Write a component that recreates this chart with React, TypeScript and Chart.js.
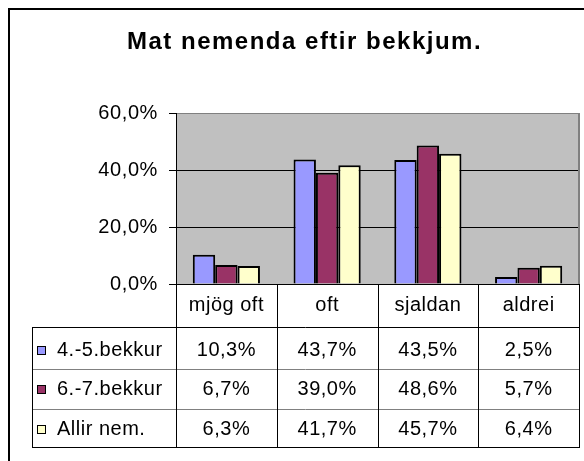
import React, { useEffect, useRef } from "react";
import { Chart, registerables } from "chart.js";

Chart.register(...registerables);

const title = "Mat nemenda eftir bekkjum.";
const categories = ["mjög oft", "oft", "sjaldan", "aldrei"];
const seriesNames = ["4.-5.bekkur", "6.-7.bekkur", "Allir nem."];
const grade45 = [10.3, 43.7, 43.5, 2.5];
const grade67 = [6.7, 39.0, 48.6, 5.7];
const allPupils = [6.3, 41.7, 45.7, 6.4];
const seriesColors = ["#9999FF", "#993366", "#FFFFCC"];
const yMin = 0;
const yMax = 60;
const yStep = 20;

const fmt = (v: number) => v.toFixed(1).replace(".", ",") + "%";
const FONT = "'Liberation Sans', Arial, sans-serif";

const bgPlugin = {
  id: "bgPlugin",
  beforeDraw(chart: any) {
    const { ctx, chartArea } = chart;
    ctx.save();
    ctx.fillStyle = "#FFFFFF";
    ctx.fillRect(0, 0, chart.width, chart.height);
    ctx.fillStyle = "#C0C0C0";
    ctx.fillRect(chartArea.left, chartArea.top, chartArea.right - chartArea.left, chartArea.bottom - chartArea.top);
    ctx.restore();
    (ctx as any).letterSpacing = "0.6px";
  },
};

const tablePlugin = {
  id: "tablePlugin",
  afterDraw(chart: any) {
    const { ctx, chartArea } = chart;
    const series = [grade45, grade67, allPupils];
    const left = chartArea.left;
    const right = chartArea.right;
    const colW = (right - left) / categories.length;
    const axisY = chartArea.bottom;
    const headerBottom = 327;
    const rowBottoms = [369, 409, 447];
    const tableLeft = 32;

    ctx.save();
    // outer frame
    ctx.strokeStyle = "#000";
    ctx.lineWidth = 2;
    ctx.beginPath();
    ctx.moveTo(9, chart.height + 5);
    ctx.lineTo(9, 9);
    ctx.lineTo(chart.width + 5, 9);
    ctx.stroke();

    // plot right border
    ctx.strokeStyle = "#808080";
    ctx.lineWidth = 2;
    ctx.beginPath();
    ctx.moveTo(right, chartArea.top);
    ctx.lineTo(right, axisY);
    ctx.stroke();

    // title
    (ctx as any).letterSpacing = "1.5px";
    ctx.fillStyle = "#000";
    ctx.font = "bold 24px " + FONT;
    ctx.textAlign = "left";
    ctx.textBaseline = "alphabetic";
    ctx.fillText(title, 127, 49);

    // table lines
    (ctx as any).letterSpacing = "0.5px";
    ctx.lineWidth = 1;
    ctx.strokeStyle = "#808080";
    ctx.beginPath();
    for (let r = 0; r < rowBottoms.length - 1; r++) {
      const y = rowBottoms[r] + 0.5;
      ctx.moveTo(tableLeft, y);
      ctx.lineTo(right, y);
    }
    ctx.stroke();

    ctx.strokeStyle = "#000";
    ctx.beginPath();
    ctx.moveTo(tableLeft, headerBottom + 0.5);
    ctx.lineTo(right, headerBottom + 0.5);
    ctx.moveTo(tableLeft, rowBottoms[2] + 0.5);
    ctx.lineTo(right + 1, rowBottoms[2] + 0.5);
    ctx.moveTo(tableLeft + 0.5, headerBottom);
    ctx.lineTo(tableLeft + 0.5, rowBottoms[2]);
    for (let i = 0; i <= categories.length; i++) {
      const x = Math.round(left + i * colW) + 0.5;
      ctx.moveTo(x, axisY);
      ctx.lineTo(x, rowBottoms[2]);
    }
    ctx.stroke();

    // header labels
    ctx.font = "20px " + FONT;
    ctx.fillStyle = "#000";
    ctx.textAlign = "center";
    categories.forEach((c, i) => {
      ctx.fillText(c, left + (i + 0.5) * colW, 311);
    });

    // rows
    const baselines = [356, 395, 435];
    series.forEach((vals, r) => {
      const b = baselines[r];
      ctx.fillStyle = seriesColors[r];
      ctx.fillRect(37, b - 10, 9, 9);
      ctx.strokeStyle = "#000";
      ctx.lineWidth = 1;
      ctx.strokeRect(37.5, b - 9.5, 8, 8);
      ctx.fillStyle = "#000";
      ctx.textAlign = "left";
      ctx.fillText(seriesNames[r], 57, b);
      ctx.textAlign = "center";
      vals.forEach((v, i) => {
        ctx.fillText(fmt(v), left + (i + 0.5) * colW, b);
      });
    });
    ctx.restore();
  },
};

export default function App() {
  const ref = useRef<HTMLCanvasElement | null>(null);
  useEffect(() => {
    if (!ref.current) return;
    const chart = new Chart(ref.current, {
      type: "bar",
      data: {
        labels: categories,
        datasets: [grade45, grade67, allPupils].map((d, i) => ({
          label: seriesNames[i],
          data: d,
          backgroundColor: seriesColors[i],
          borderColor: "#000000",
          borderWidth: 2,
          barPercentage: 1,
          categoryPercentage: 3 / 4.5,
        })),
      },
      options: {
        animation: false,
        responsive: false,
        devicePixelRatio: 1,
        layout: { padding: { top: 113, right: 5, bottom: 177, left: 0 } },
        plugins: {
          legend: { display: false },
          title: { display: false },
          tooltip: { enabled: false },
        },
        scales: {
          x: { display: false },
          y: {
            min: yMin,
            max: yMax,
            ticks: {
              stepSize: yStep,
              padding: 11,
              color: "#000",
              font: { family: FONT, size: 20 },
              callback: (v: any) => fmt(Number(v)),
            },
            grid: {
              color: (c: any) => (c.tick && c.tick.value === yMax ? "#808080" : "#000000"),
              tickColor: "#000000",
              tickLength: 7,
              lineWidth: 1,
            },
            border: { display: true, color: "#000000", width: 1 },
            afterFit: (scale: any) => {
              scale.width = 176;
            },
          },
        },
      },
      plugins: [bgPlugin, tablePlugin],
    });
    return () => chart.destroy();
  }, []);
  return (
    <div style={{ position: "absolute", left: 0, top: 0, width: 584, height: 461, background: "#fff" }}>
      <canvas ref={ref} width={584} height={461} style={{ display: "block", width: 584, height: 461 }} />
    </div>
  );
}
